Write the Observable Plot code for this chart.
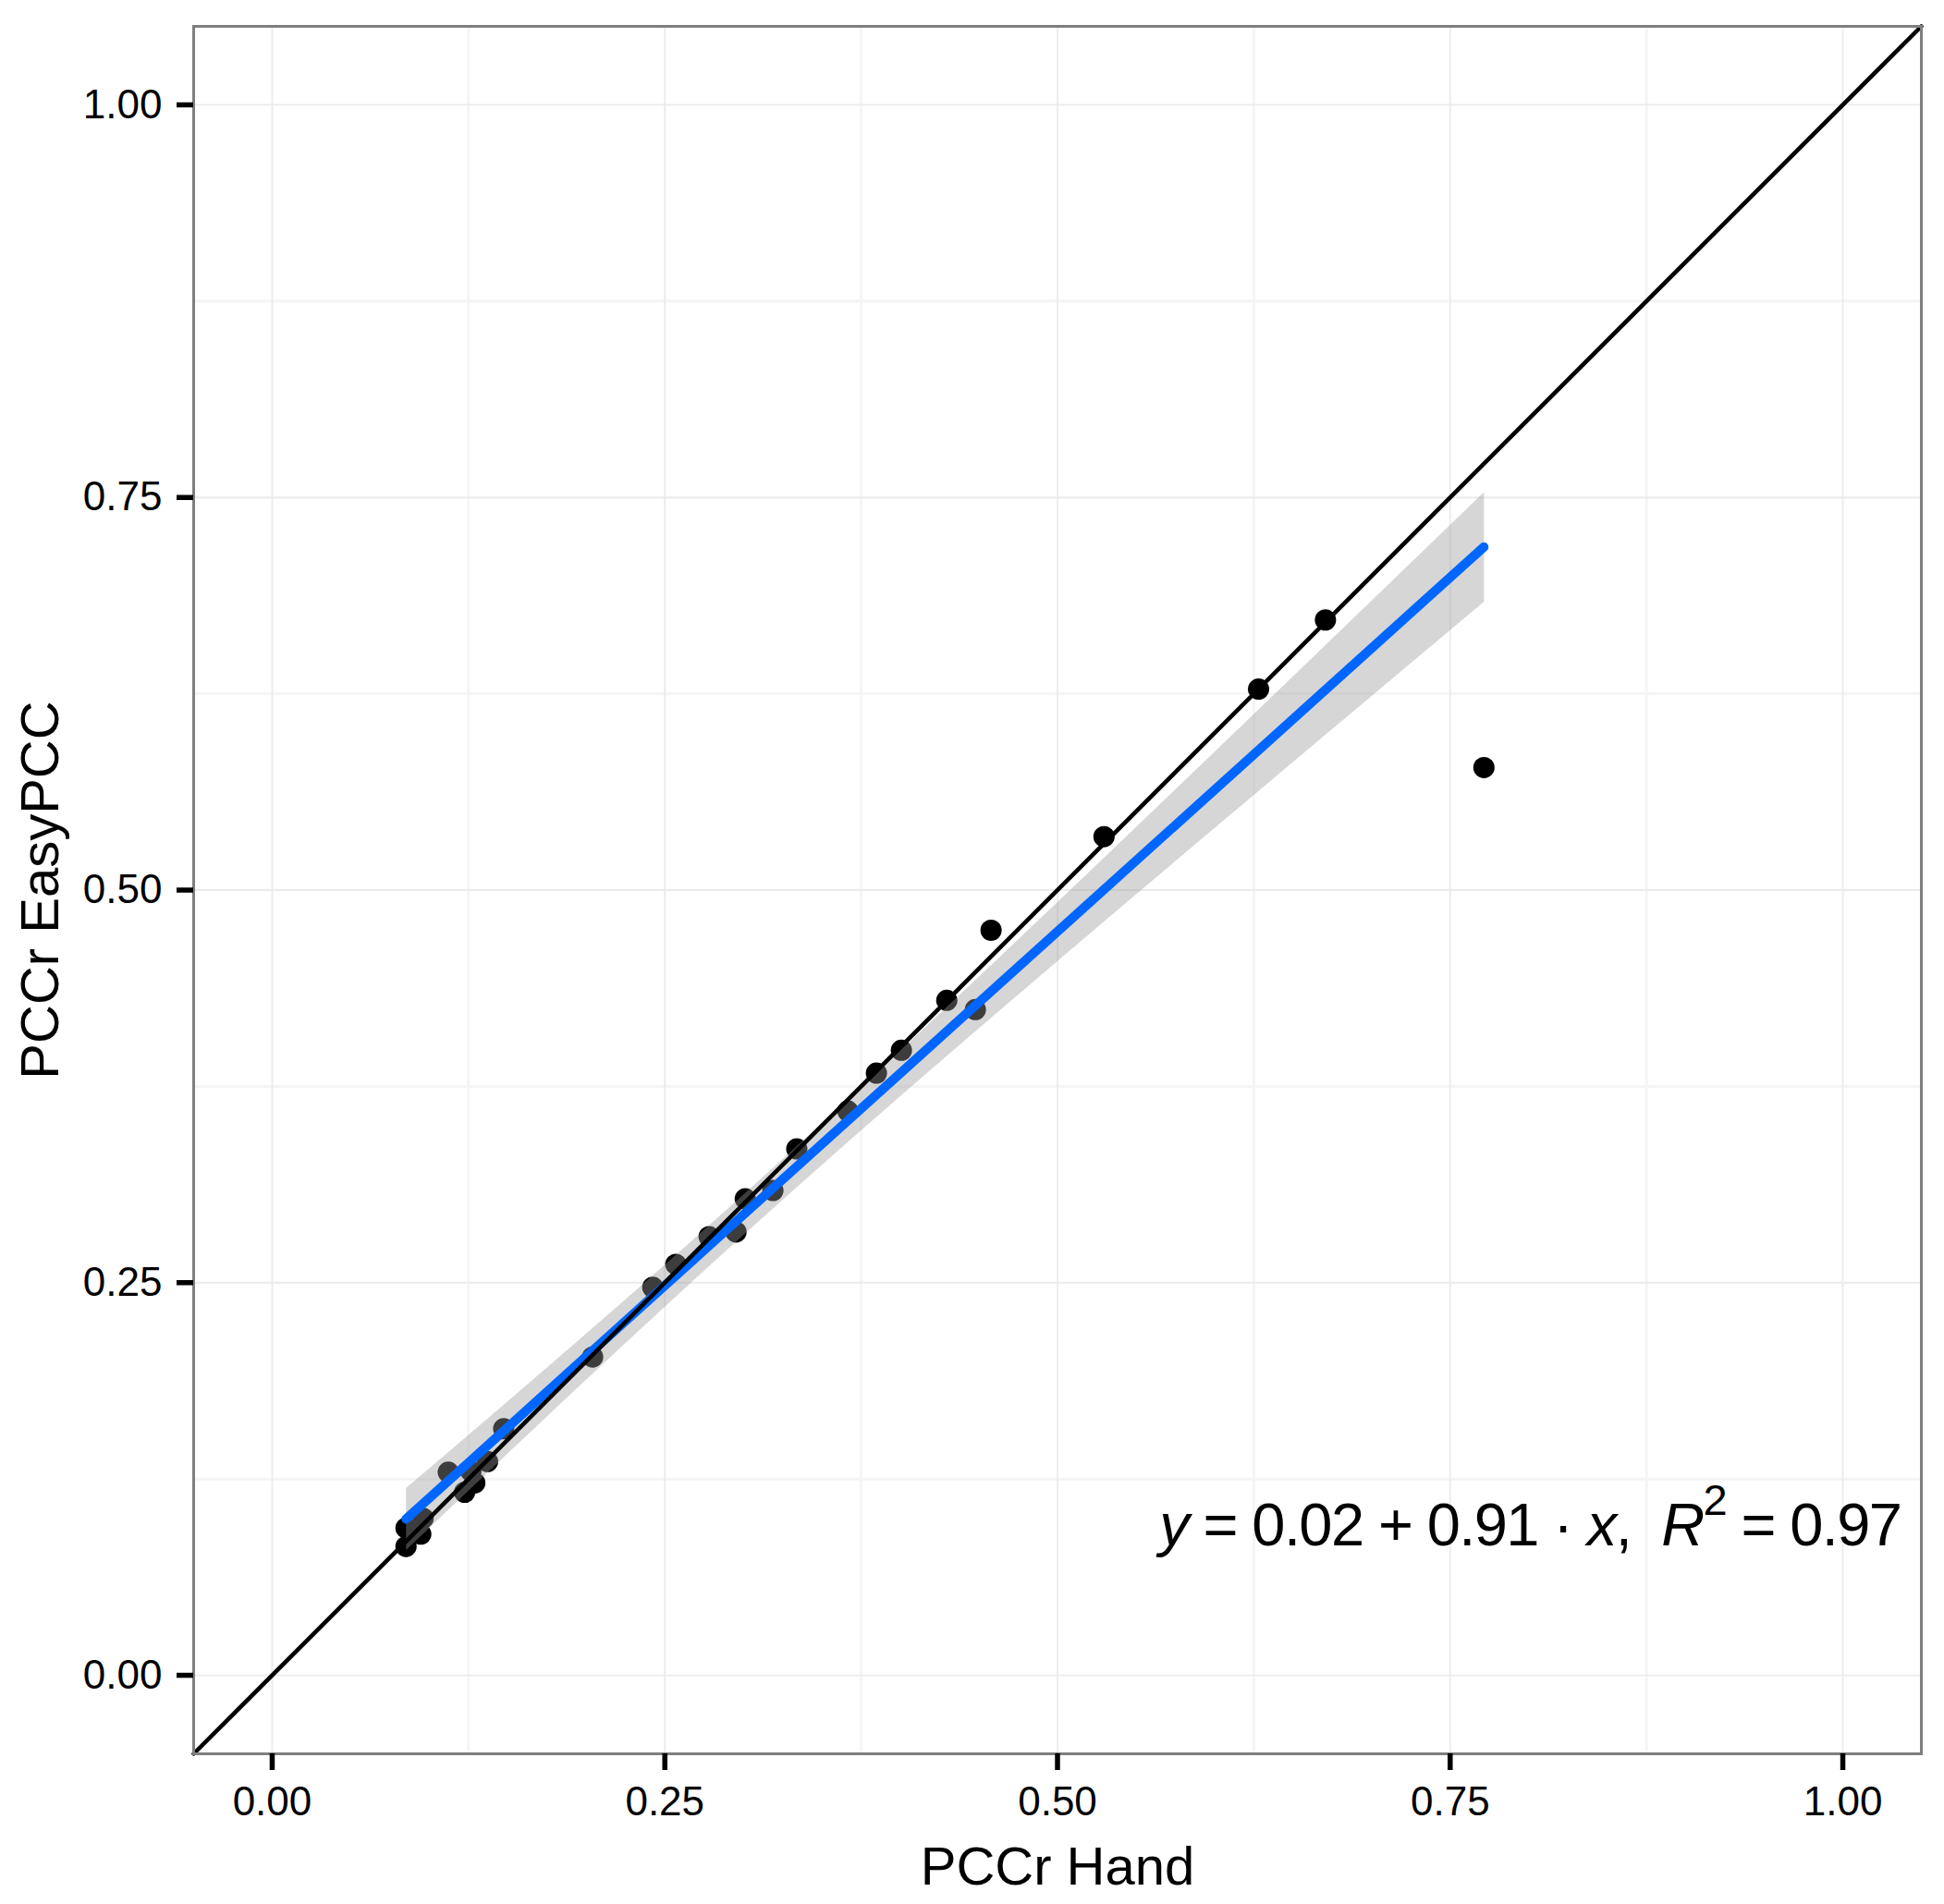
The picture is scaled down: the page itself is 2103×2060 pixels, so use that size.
<!DOCTYPE html>
<html>
<head>
<meta charset="utf-8">
<script src="https://cdn.jsdelivr.net/npm/d3@7"></script>
<script src="https://cdn.jsdelivr.net/npm/@observablehq/plot@0.6"></script>
<style>
  body { margin: 0; background: #ffffff; }
  svg { display: block; }
</style>
</head>
<body>
<div id="chart"></div>
<script>
// ---- data ----
const hand = [0.7715, 0.6706, 0.628, 0.5296, 0.4577, 0.4295, 0.4477, 0.4006, 0.3847, 0.3665,
              0.334, 0.3188, 0.3012, 0.2953, 0.2782, 0.257, 0.2423, 0.204, 0.1474, 0.1371,
              0.129, 0.1225, 0.1265, 0.1121, 0.0961, 0.0946, 0.0852, 0.0852];
const easy = [0.578, 0.672, 0.628, 0.534, 0.4744, 0.4298, 0.4239, 0.398, 0.3834, 0.3593,
              0.3352, 0.3087, 0.3034, 0.2823, 0.2793, 0.2617, 0.247, 0.2027, 0.157, 0.1361,
              0.1225, 0.1165, 0.13, 0.1293, 0.100, 0.0899, 0.0938, 0.082];
const majorTicks = [0, 0.25, 0.5, 0.75, 1];
const minorTicks = [0.125, 0.375, 0.625, 0.875];
const tickLabels = ["0.00", "0.25", "0.50", "0.75", "1.00"];
const axisDomain = [-0.05, 1.05];
const xTitle = "PCCr Hand";
const yTitle = "PCCr EasyPCC";
const eqParts = ["y", " = ", "0.02", " + ", "0.91", " \u00B7 ", "x", ",  ", "R", "2", " = 0.97"];
const eqItalic = [0, 6, 8];
const eqSuper = [9];
const eqAnchor = [{x: 1.037, y: 0.0825}];

const data = hand.map((h, i) => ({hand: h, easy: easy[i]}));
const eqString = eqParts.join("");
const font = "'Liberation Sans', Arial, Helvetica, sans-serif";
const eqFont = 65;
const tickStroke = 5.5;

const chart = Plot.plot({
  width: 2103,
  height: 2060,
  marginLeft: 209,
  marginRight: 25,
  marginTop: 28,
  marginBottom: 163,
  style: {fontFamily: font, background: "#ffffff", color: "black"},
  x: {domain: axisDomain, label: null},
  y: {domain: axisDomain, label: null},
  marks: [
    Plot.gridX(minorTicks, {stroke: "#f5f5f5", strokeOpacity: 1, strokeWidth: 3}),
    Plot.gridY(minorTicks, {stroke: "#f5f5f5", strokeOpacity: 1, strokeWidth: 3}),
    Plot.gridX(majorTicks, {stroke: "#ebebeb", strokeOpacity: 1, strokeWidth: 1.8}),
    Plot.gridY(majorTicks, {stroke: "#ebebeb", strokeOpacity: 1, strokeWidth: 1.8}),
    Plot.dot(data, {x: "hand", y: "easy", r: 11.5, fill: "black", stroke: null}),
    Plot.linearRegressionY(data, {
      x: "hand", y: "easy", ci: 0.95,
      stroke: "#0066ff", strokeWidth: 10,
      fill: "#999999", fillOpacity: 0.4
    }),
    Plot.line(axisDomain, {x: d => d, y: d => d, stroke: "black", strokeWidth: 4.5}),
    Plot.frame({stroke: "#7f7f7f", strokeWidth: 3}),
    Plot.axisX(majorTicks, {
      anchor: "bottom", label: null,
      tickFormat: d => tickLabels[majorTicks.indexOf(d)],
      tickSize: 18, tickPadding: 17, strokeWidth: tickStroke, stroke: "black",
      fontSize: 44, fill: "black"
    }),
    Plot.axisY(majorTicks, {
      anchor: "left", label: null,
      tickFormat: d => tickLabels[majorTicks.indexOf(d)],
      tickSize: 18, tickPadding: 16, strokeWidth: tickStroke, stroke: "black",
      fontSize: 44, fill: "black"
    }),
    Plot.text([xTitle], {
      frameAnchor: "bottom", text: d => d, dy: 141, lineAnchor: "bottom",
      fontSize: 58, fill: "black"
    }),
    Plot.text([yTitle], {
      frameAnchor: "left", text: d => d, rotate: -90, dx: -147, lineAnchor: "bottom",
      textAnchor: "middle", fontSize: 58, fill: "black"
    }),
    Plot.text(eqAnchor, {
      x: "x", y: "y", text: () => eqString, textAnchor: "end", lineAnchor: "bottom",
      fontSize: eqFont, fill: "black"
    })
  ]
});

document.getElementById("chart").appendChild(chart);

// make sure the axis ticks get the heavy stroke
d3.select(chart).selectAll('g[aria-label="x-axis tick"], g[aria-label="y-axis tick"]')
  .attr("stroke-width", tickStroke)
  .selectAll("path").attr("stroke-width", tickStroke);

// rich formatting of the equation (italic variables, superscript)
d3.select(chart).selectAll("text")
  .filter(function () { return this.textContent === eqString; })
  .each(function () {
    const t = d3.select(this);
    t.text(null);
    const supSize = Math.round(eqFont * 0.72);
    const lift = Math.round(eqFont * 0.5);
    eqParts.forEach((p, i) => {
      const ts = t.append("tspan").text(p);
      if (eqItalic.includes(i)) ts.attr("font-style", "italic");
      if (eqSuper.includes(i)) {
        ts.attr("font-size", supSize).attr("dy", -lift);
      } else if (eqSuper.includes(i - 1)) {
        ts.attr("dy", lift);
      }
    });
    t.attr("letter-spacing", -1.6);
  });
</script>
</body>
</html>
